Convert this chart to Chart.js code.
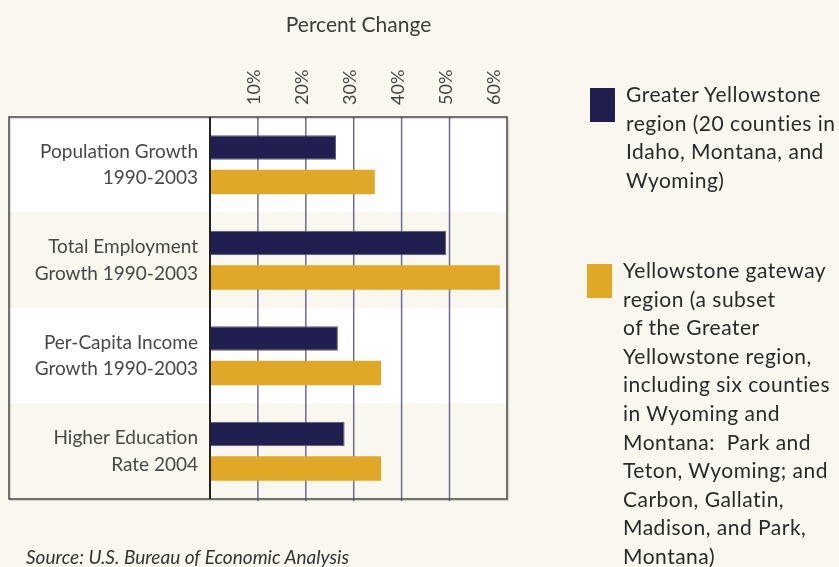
<!DOCTYPE html>
<html>
<head>
<meta charset="utf-8">
<script src="https://cdn.jsdelivr.net/npm/chart.js@4.4.1/dist/chart.umd.min.js"></script>
<style>
  html, body { margin: 0; padding: 0; background: #faf7ef; }
  #wrap { position: relative; width: 839px; height: 567px; overflow: hidden; background: #faf7ef; }
  #c { position: absolute; left: 0; top: 0; }
  .leg { position: absolute; font-family: Lato, "Open Sans", sans-serif; font-size: 21px; letter-spacing: 0.5px; line-height: 28.6px; color: #2a2a2a; white-space: nowrap; }
  .sw { position: absolute; width: 25px; height: 34px; }
  #source { position: absolute; left: 26px; top: 545px; font-family: Lato, sans-serif; font-style: italic; font-size: 19px; color: #333; white-space: nowrap; }
</style>
</head>
<body>
<div id="wrap">
  <canvas id="c" width="839" height="567"></canvas>
  <div class="sw" id="sw0" style="left:590px; top:88px;"></div>
  <div class="leg" id="lg0" style="left:626px; top:80px;"></div>
  <div class="sw" id="sw1" style="left:587px; top:264px;"></div>
  <div class="leg" id="lg1" style="left:623px; top:256px;"></div>
  <div id="source">Source: U.S. Bureau of Economic Analysis</div>
</div>
<script>
// ---- data ----
const categories = [
  ['Population Growth', '1990-2003'],
  ['Total Employment', 'Growth 1990-2003'],
  ['Per-Capita Income', 'Growth 1990-2003'],
  ['Higher Education', 'Rate 2004']
];
const greaterYellowstone = [26.3, 49.3, 26.7, 28.1];
const gatewayRegion = [34.4, 60.5, 35.7, 35.7];
const tickValues = [10, 20, 30, 40, 50, 60];
const axisTitle = 'Percent Change';
const seriesLines = [
  ['Greater Yellowstone', 'region (20 counties in', 'Idaho, Montana, and', 'Wyoming)'],
  ['Yellowstone gateway', 'region (a subset', 'of the Greater', 'Yellowstone region,', 'including six counties',
   'in Wyoming and', 'Montana:\u00a0 Park and', 'Teton, Wyoming; and', 'Carbon, Gallatin,', 'Madison, and Park,', 'Montana)']
];
const seriesColors = ['#211f4f', '#e1a727'];

// ---- legend (HTML, real text) ----
seriesLines.forEach((lines, i) => {
  document.getElementById('lg' + i).innerHTML = lines.map(l => '<div>' + l + '</div>').join('');
  document.getElementById('sw' + i).style.background = seriesColors[i];
});

// ---- plugin: bands behind everything, box on top ----
const boxPlugin = {
  id: 'box',
  beforeDraw(chart) {
    const { ctx, chartArea, scales } = chart;
    const y = scales.y;
    const left = 9;
    const n = categories.length;
    const half = (chartArea.bottom - chartArea.top) / n / 2;
    ctx.save();
    for (let i = 0; i < n; i++) {
      const c = y.getPixelForValue(i);
      ctx.fillStyle = i % 2 === 0 ? '#ffffff' : '#faf7ef';
      ctx.fillRect(left, c - half, chartArea.right - left, half * 2);
    }
    ctx.restore();
  },
  beforeDatasetsDraw(chart) {
    const { ctx, chartArea, scales } = chart;
    ctx.save();
    ctx.strokeStyle = '#6e6c92';
    ctx.lineWidth = 1.5;
    tickValues.forEach(v => {
      if (v >= scales.x.max - 2) return;
      const x = scales.x.getPixelForValue(v);
      ctx.beginPath();
      ctx.moveTo(x, chartArea.top);
      ctx.lineTo(x, chartArea.bottom + 2);
      ctx.stroke();
    });
    ctx.restore();
  },
  afterDatasetsDraw(chart) {
    const { ctx, chartArea } = chart;
    const left = 9;
    ctx.save();
    ctx.strokeStyle = 'rgba(0,0,0,0.12)';
    ctx.lineWidth = 1.5;
    ctx.strokeRect(left + 1.5, chartArea.top + 1.5, chartArea.right - left, chartArea.bottom - chartArea.top);
    ctx.strokeStyle = '#444';
    ctx.lineWidth = 1.5;
    ctx.strokeRect(left, chartArea.top, chartArea.right - left, chartArea.bottom - chartArea.top);
    ctx.strokeStyle = '#222';
    ctx.lineWidth = 2;
    ctx.beginPath();
    ctx.moveTo(chartArea.left, chartArea.top);
    ctx.lineTo(chartArea.left, chartArea.bottom);
    ctx.stroke();
    ctx.restore();
  }
};

new Chart(document.getElementById('c'), {
  type: 'bar',
  data: {
    labels: categories,
    datasets: [
      { label: seriesLines[0].join(' '), data: greaterYellowstone, backgroundColor: seriesColors[0],
        borderColor: '#5c5b6e', borderWidth: 1, borderSkipped: 'start' },
      { label: seriesLines[1].join(' '), data: gatewayRegion, backgroundColor: seriesColors[1],
        borderWidth: 0 }
    ]
  },
  options: {
    indexAxis: 'y',
    responsive: false,
    devicePixelRatio: 1,
    animation: false,
    barPercentage: 0.71,
    categoryPercentage: 0.72,
    layout: { padding: { left: 9, right: 332, top: 0, bottom: 68 } },
    plugins: { legend: { display: false }, tooltip: { enabled: false } },
    scales: {
      x: {
        type: 'linear',
        position: 'top',
        min: 0,
        max: 62,
        afterBuildTicks: s => { s.ticks = tickValues.map(v => ({ value: v })); },
        afterFit: s => { s.height = 117; },
        grid: { display: false, drawTicks: false },
        border: { display: false },
        ticks: {
          minRotation: 90, maxRotation: 90,
          labelOffset: 18,
          padding: 12,
          color: '#444',
          font: { family: 'Lato', size: 18 },
          callback: v => v + '%'
        },
        title: {
          display: true, text: axisTitle, color: '#3d3d3d',
          font: { family: 'Lato', size: 21 },
          padding: { top: 13, bottom: 0 }
        }
      },
      y: {
        type: 'category',
        afterFit: s => { s.width = 201; },
        grid: { display: false, drawTicks: false },
        border: { display: false },
        ticks: {
          padding: 12,
          color: '#484848',
          font: { family: 'Lato', size: 19, lineHeight: 1.4 }
        }
      }
    }
  },
  plugins: [boxPlugin]
});
</script>
</body>
</html>
